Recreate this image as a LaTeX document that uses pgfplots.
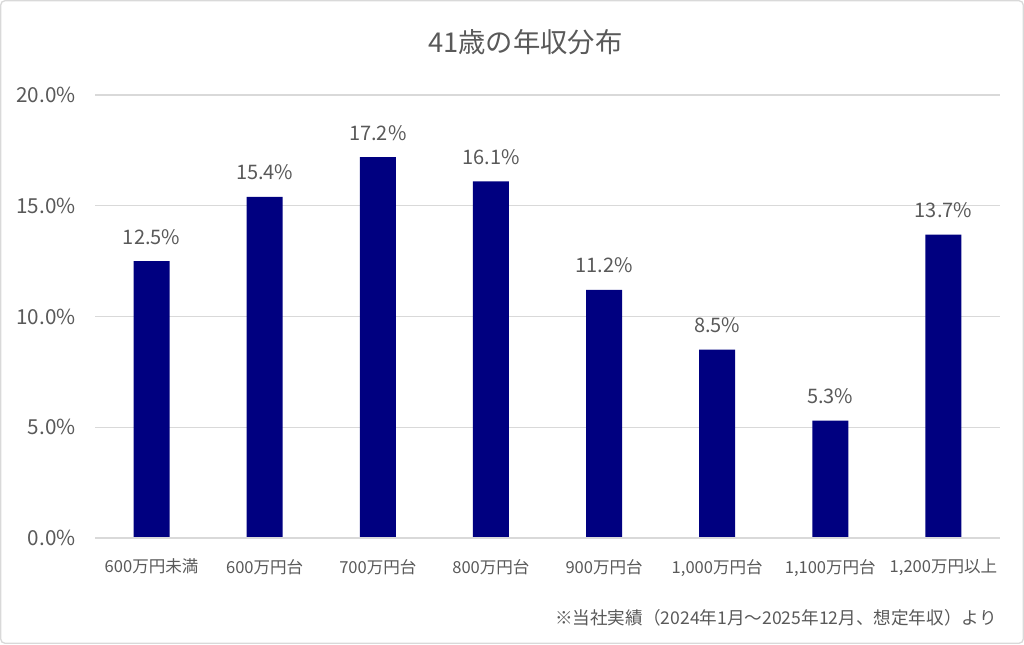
\documentclass[border=0pt]{standalone}
\usepackage{fontspec}
\setmainfont{Noto Sans CJK JP}
\usepackage{pgfplots}
\pgfplotsset{compat=1.18}
\definecolor{txt}{HTML}{595959}
\definecolor{grd}{HTML}{D9D9D9}
\definecolor{bar}{HTML}{000080}
\begin{document}
\begin{tikzpicture}
\path[use as bounding box] (0,0) rectangle (768pt,483pt);
\draw[grd, line width=1pt, rounded corners=3pt] (0.6pt,0.6pt) rectangle (767.4pt,482.4pt);
\node[txt, font=\fontsize{20.5pt}{24pt}\selectfont] at (394pt,451.5pt) {41歳の年収分布};
\node[txt, anchor=east, font=\fontsize{13.2pt}{15pt}\selectfont] at (751pt,19.5pt) {※当社実績（2024年1月～2025年12月、想定年収）より};
\begin{axis}[
  at={(71.25pt,79.5pt)}, anchor=south west,
  scale only axis, width=678.75pt, height=332.25pt,
  xmin=-0.5, xmax=7.5, ymin=0, ymax=20,
  ybar, bar width=27pt,
  axis line style={draw=none},
  ymajorgrids, grid style={grd, line width=0.8pt},
  ytick={0,5,10,15,20},
  xtick={0,...,7},
  xticklabels={600万円未満,600万円台,700万円台,800万円台,900万円台,{1,000万円台},{1,100万円台},{1,200万円以上}},
  tick style={draw=none},
  /pgf/number format/assume math mode=true,
  yticklabel={\pgfmathprintnumber[fixed,fixed zerofill,precision=1]{\tick}\%},
  yticklabel style={txt, font=\fontsize{15.5pt}{17pt}\selectfont, xshift=-11pt},
  xticklabel style={txt, font=\fontsize{12.4pt}{14pt}\selectfont, yshift=-8pt},
  nodes near coords={\pgfmathprintnumber[fixed,fixed zerofill,precision=1]{\pgfplotspointmeta}\%},
  nodes near coords style={txt, font=\fontsize{15pt}{17pt}\selectfont, yshift=9pt},
  clip=false,
]
\addplot[fill=bar, draw=none] coordinates {(0,12.5) (1,15.4) (2,17.2) (3,16.1) (4,11.2) (5,8.5) (6,5.3) (7,13.7)};
\draw[grd, line width=0.8pt] (axis cs:-0.5,0) -- (axis cs:7.5,0);
\end{axis}
\end{tikzpicture}
\end{document}
